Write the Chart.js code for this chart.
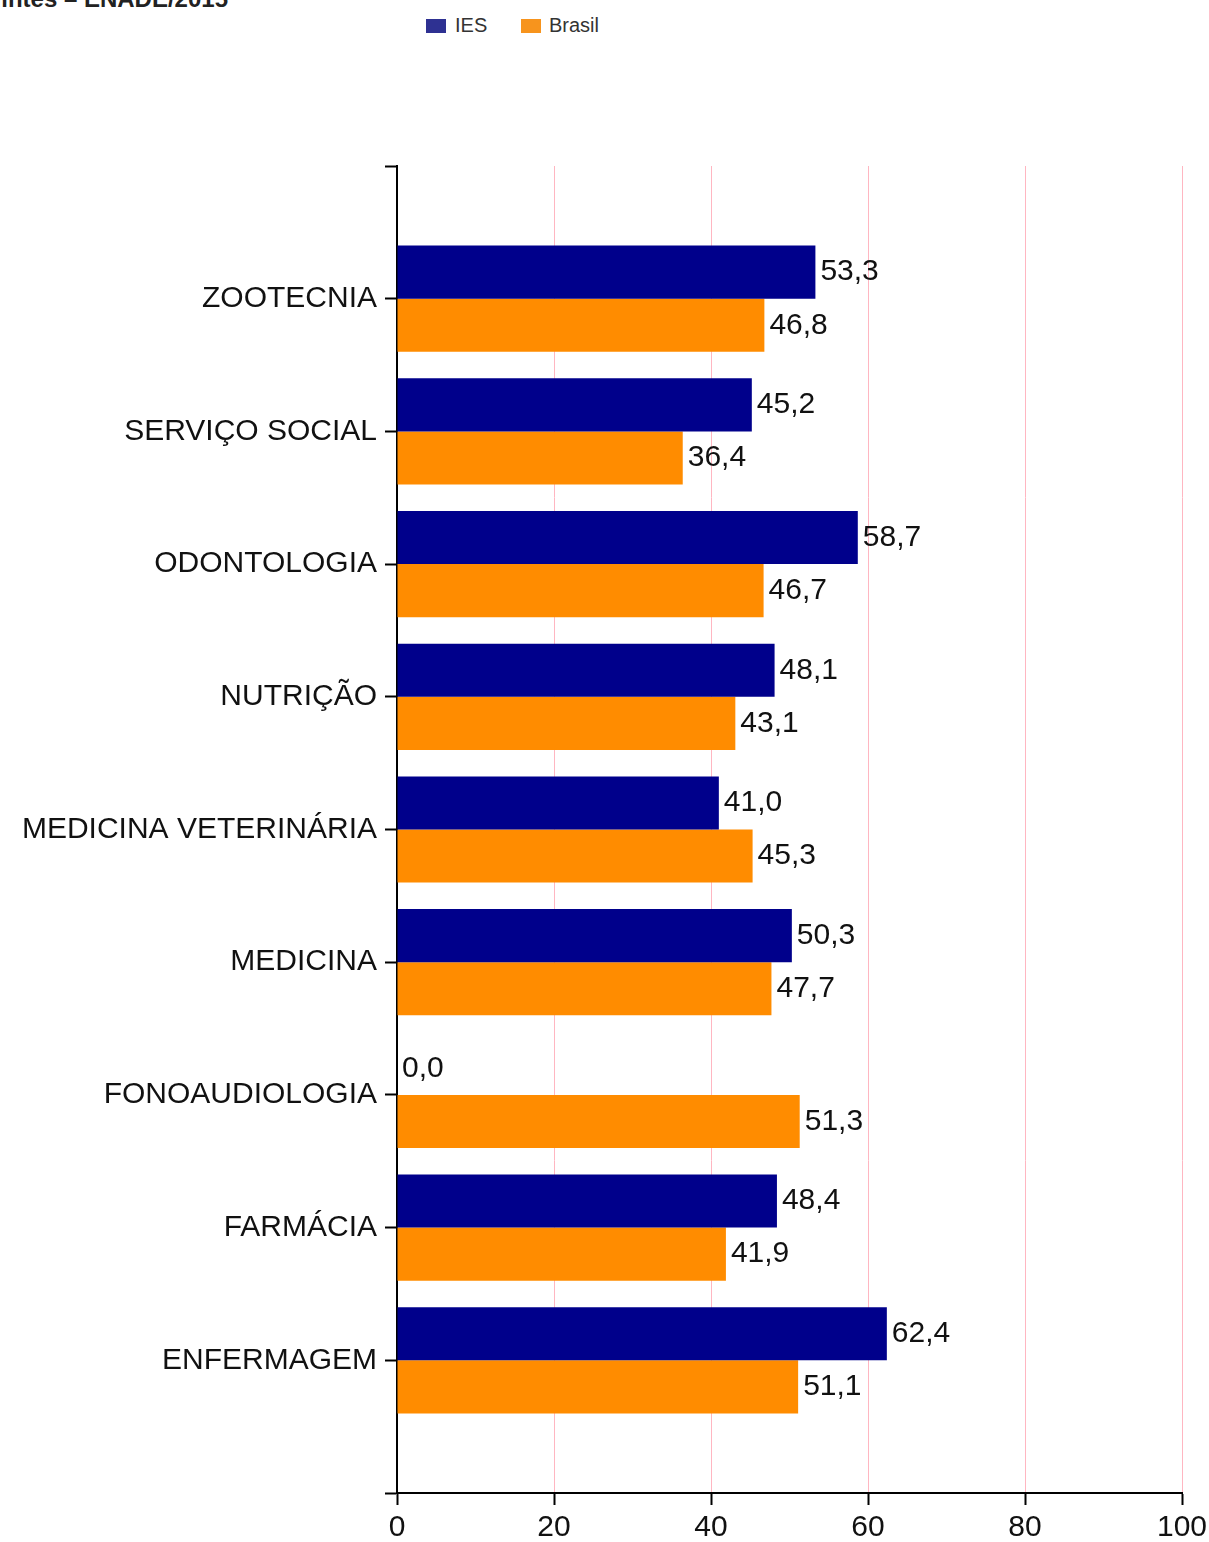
<!DOCTYPE html>
<html>
<head>
    <title>ENADE 2015</title>
    <script src="https://cdn.jsdelivr.net/npm/chart.js"></script>
    <style>
        body { margin: 0; background: #fff; font-family: Arial, "Liberation Sans", sans-serif; }
        #wrap { position: relative; width: 1209px; height: 1542px; overflow: hidden; }
        #title { position: absolute; right: 981px; top: -13px; font: bold 24px/24px Arial, "Liberation Sans", sans-serif; color: #222; white-space: nowrap; }
        .box { position: absolute; top: 19px; width: 20px; height: 14px; }
        .lbl { position: absolute; top: 14px; font: 20px/22px Arial, "Liberation Sans", sans-serif; color: #333; }
        canvas { position: absolute; left: 0; top: 0; }
    </style>
</head>
<body>
<div id="wrap">
    <div id="title">Concluintes – ENADE/2015</div>
    <div class="box" style="left:426px;background:#2e3192"></div>
    <span class="lbl" style="left:455px">IES</span>
    <div class="box" style="left:521px;background:#f7941d"></div>
    <span class="lbl" style="left:549px">Brasil</span>
    <canvas id="myChart" width="1209" height="1542"></canvas>
</div>
<script>
    const categories = ['ZOOTECNIA', 'SERVIÇO SOCIAL', 'ODONTOLOGIA', 'NUTRIÇÃO',
        'MEDICINA VETERINÁRIA', 'MEDICINA', 'FONOAUDIOLOGIA', 'FARMÁCIA', 'ENFERMAGEM'];
    const ies = [53.3, 45.2, 58.7, 48.1, 41.0, 50.3, 0.0, 48.4, 62.4];
    const brasil = [46.8, 36.4, 46.7, 43.1, 45.3, 47.7, 51.3, 41.9, 51.1];
    const xTicks = [0, 20, 40, 60, 80, 100];

    // uma categoria vazia em cada ponta deixa o espaço de cima e de baixo
    const labels = [''].concat(categories, ['']);
    const pad = arr => [null].concat(arr, [null]);

    const fontFamily = 'Arial, "Liberation Sans", sans-serif';

    // rótulos de valor ao lado das barras
    const valueLabels = {
        id: 'valueLabels',
        afterDatasetsDraw(chart) {
            const c = chart.ctx;
            c.save();
            c.font = '30px ' + fontFamily;
            c.fillStyle = '#111';
            c.textAlign = 'left';
            c.textBaseline = 'middle';
            chart.data.datasets.forEach((ds, i) => {
                chart.getDatasetMeta(i).data.forEach((bar, j) => {
                    const v = ds.data[j];
                    if (v === null) return;
                    c.fillText(v.toFixed(1).replace('.', ','), bar.x + 5, bar.y);
                });
            });
            c.restore();
        }
    };

    const ctx = document.getElementById('myChart').getContext('2d');
    const myChart = new Chart(ctx, {
        type: 'bar',
        data: {
            labels: labels,
            datasets: [
                { label: 'IES', data: pad(ies), backgroundColor: '#00008b', borderWidth: 0 },
                { label: 'Brasil', data: pad(brasil), backgroundColor: '#ff8c00', borderWidth: 0 }
            ]
        },
        options: {
            indexAxis: 'y',
            responsive: false,
            animation: false,
            categoryPercentage: 0.8,
            barPercentage: 1.0,
            layout: { padding: { top: 166, right: 27, left: 0, bottom: 0 } },
            plugins: {
                legend: { display: false },
                tooltip: { enabled: false }
            },
            scales: {
                x: {
                    min: 0,
                    max: 100,
                    afterBuildTicks: s => { s.ticks = xTicks.map(v => ({ value: v })); },
                    afterFit: s => { s.height = 49; s.paddingRight = 0; s.paddingLeft = 0; },
                    border: { color: '#000', width: 2 },
                    grid: {
                        color: '#ffb6c1',
                        lineWidth: 1,
                        borderDash: [2, 2],
                        tickColor: '#000',
                        tickWidth: 2,
                        tickLength: 12,
                        tickBorderDash: []
                    },
                    ticks: {
                        color: '#111',
                        padding: 5,
                        font: { size: 30, family: fontFamily }
                    }
                },
                y: {
                    offset: false,
                    afterFit: s => { s.width = 397; },
                    border: { color: '#000', width: 2 },
                    grid: {
                        offset: false,
                        drawOnChartArea: false,
                        tickColor: '#000',
                        tickWidth: 2,
                        tickLength: 12
                    },
                    ticks: {
                        color: '#111',
                        padding: 8,
                        autoSkip: false,
                        font: { size: 30, family: fontFamily }
                    }
                }
            }
        },
        plugins: [valueLabels]
    });
</script>
</body>
</html>
